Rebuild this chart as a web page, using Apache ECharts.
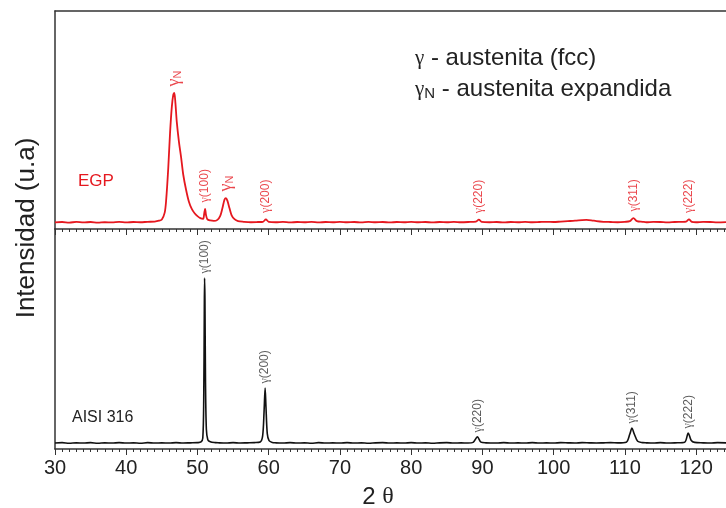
<!DOCTYPE html>
<html>
<head>
<meta charset="utf-8">
<script src="https://cdn.jsdelivr.net/npm/echarts@6/dist/echarts.min.js"></script>
<style>
  html, body { margin: 0; padding: 0; background: #fff; }
  #chart { width: 726px; height: 508px; }
</style>
</head>
<body>
<div id="chart"></div>
<script>
// EGP (nitrided) pattern, 2θ and intensity
const egpTheta = [30, 31, 32, 33, 34, 35, 36, 37, 38, 39, 40, 41, 42, 43, 44, 44.6, 45.0, 45.4, 45.6, 45.9,
  46.15, 46.4, 46.6, 46.75, 46.9, 47.1, 47.4, 47.7, 48.0, 48.4, 48.8, 49.2, 49.6, 50.0, 50.4, 50.8, 50.95, 51.07,
  51.2, 51.4, 51.8, 52.3, 52.8, 53.2, 53.5, 53.8, 54.0, 54.2, 54.5, 54.8, 55.2, 55.7, 56.5, 57.5, 58.5, 59.2,
  59.6, 60.0, 61, 62, 63, 64, 65, 66, 67, 68, 69, 70, 71, 72, 73, 74, 75, 76, 77, 78, 79, 80, 81, 82, 83, 84,
  85, 86, 87, 88, 89.1, 89.5, 89.9, 91, 92, 93, 94, 95, 96, 97, 98, 99, 100, 101, 102, 103, 104, 104.6, 105.3,
  106, 107, 108, 109, 110, 110.7, 111.2, 111.7, 112.5, 113, 114, 115, 116, 117, 118, 118.6, 119.0, 119.4, 120,
  121, 122, 123, 124.2];
const egpIntensity = [3.0, 3.2, 2.9, 3.3, 3.0, 3.2, 2.9, 3.1, 3.0, 3.3, 3.0, 3.2, 3.1, 3.3, 3.4, 3.8, 4.4, 7.5, 13, 28,
  44, 56, 61.5, 62.4, 58, 49, 40, 33, 25, 18, 12.5, 9.2, 7.2, 5.9, 5.0, 4.7, 7.2, 9.2,
  6.4, 4.4, 3.9, 3.7, 4.2, 6.0, 9.5, 13.5, 14.2, 13.0, 9.5, 6.3, 4.5, 3.6, 3.3, 3.1, 3.2, 3.3,
  4.4, 3.3, 3.1, 3.3, 3.0, 3.2, 3.1, 3.3, 3.0, 3.2, 3.1, 3.3, 3.1, 3.2, 3.0, 3.3, 3.1, 3.2, 3.0, 3.2, 3.1, 3.3, 3.1, 3.2, 3.0, 3.2,
  3.1, 3.3, 3.1, 3.2, 3.4, 4.3, 3.3, 3.1, 3.2, 3.0, 3.2, 3.1, 3.3, 3.1, 3.2, 3.3, 3.2, 3.4, 3.6, 3.8, 4.1, 4.2, 4.0,
  3.6, 3.3, 3.2, 3.1, 3.3, 3.6, 5.0, 3.6, 3.3, 3.1, 3.3, 3.2, 3.0, 3.2, 3.3, 3.4, 4.4, 3.3, 3.1,
  3.3, 3.2, 3.0, 3.2];

// AISI 316 pattern, bottom panel
const aisiTheta = [30, 31, 32, 33, 34, 35, 36, 37, 38, 39, 40, 41, 42, 43, 44, 45, 46, 47, 48, 49, 50, 50.5,
  50.75, 50.88, 50.96, 51.0, 51.05, 51.13, 51.25, 51.45, 51.8, 52.5, 53, 54, 55, 56, 57, 58, 58.8, 59.15,
  59.35, 59.5, 59.62, 59.8, 60.05, 60.5, 61, 62, 63, 64, 65, 66, 67, 68, 69, 70, 71, 72, 73, 74, 75, 76, 77,
  78, 79, 80, 81, 82, 83, 84, 85, 86, 87, 88, 88.7, 89.3, 89.8, 90.5, 92, 93, 94, 95, 96, 97, 98, 99, 100,
  101, 102, 103, 104, 105, 106, 107, 108, 109, 110.2, 110.7, 111.0, 111.3, 111.8, 112.5, 113, 114, 115, 116,
  117, 118.4, 118.9, 119.3, 119.8, 121, 122, 123, 124.2];
const aisiIntensity = [2.7, 2.9, 2.6, 2.8, 2.7, 2.9, 2.6, 2.8, 2.7, 2.9, 2.7, 2.8, 2.6, 2.9, 2.7, 2.8, 2.7, 2.9, 2.7, 2.8, 2.9, 3.2,
  5.0, 22, 62, 77.7, 68, 30, 9, 4.2, 3.3, 2.9, 2.8, 2.7, 2.9, 2.7, 2.8, 2.9, 3.2, 6,
  17, 27.7, 19, 7, 3.8, 3.0, 2.8, 2.7, 2.9, 2.7, 2.8, 2.6, 2.9, 2.7, 2.8, 2.7, 2.9, 2.7, 2.8, 2.6, 2.8, 2.9, 2.7,
  2.8, 2.7, 2.9, 2.7, 2.8, 2.6, 2.8, 2.9, 2.7, 2.8, 2.7, 3.0, 5.5, 3.1, 2.8, 2.7, 2.9, 2.7, 2.8, 2.7, 2.9, 2.7, 2.8, 2.7,
  2.9, 2.8, 2.7, 2.9, 2.8, 2.7, 2.8, 2.9, 2.8, 3.1, 6.8, 9.5, 7.0, 3.5, 2.9, 2.8, 2.7, 2.9, 2.7,
  2.8, 3.1, 7.3, 4.0, 3.0, 2.8, 2.7, 2.9, 2.8];

// peak labels
const egpPeakTheta = [46.75, 51.07, 54.0, 59.6, 89.5, 111.2, 119.0];
const egpPeakHeight = [62.4, 9.2, 14.2, 4.4, 4.3, 5.0, 4.4];
const egpPeakLabel = ['γN', 'γ(100)', 'γN', 'γ(200)', 'γ(220)', 'γ(311)', 'γ(222)'];

const aisiPeakTheta = [51.0, 59.5, 89.3, 111.0, 118.9];
const aisiPeakHeight = [77.7, 27.7, 5.5, 9.5, 7.3];
const aisiPeakLabel = ['γ(100)', 'γ(200)', 'γ(220)', 'γ(311)', 'γ(222)'];

const xTicks = [30, 40, 50, 60, 70, 80, 90, 100, 110, 120];

const RED = '#e5181f';
const BLACK = '#111111';
const FRAME = '#333333';
const SANS = '"Liberation Sans", Arial, sans-serif';
const SERIF = '"Liberation Serif", "DejaVu Serif", serif';

const chart = echarts.init(document.getElementById('chart'));

const zip = (xs, ys) => xs.map((x, i) => [x, ys[i]]);

function peakLabels(thetas, heights, labels) {
  return thetas.map((t, i) => ({
    value: [t, heights[i]],
    name: labels[i].startsWith('γN') ? '{gb|γ}{s|N}' : '{g|γ}{t|' + labels[i].slice(1) + '}'
  }));
}

function labelSeries(idx, data, color, gap) {
  return {
    type: 'scatter',
    xAxisIndex: idx,
    yAxisIndex: idx,
    symbolSize: 1,
    silent: true,
    itemStyle: { color: 'rgba(0,0,0,0)' },
    data: data,
    label: {
      show: true,
      position: 'top',
      distance: gap,
      rotate: 90,
      align: 'left',
      verticalAlign: 'middle',
      formatter: p => p.name,
      color: color,
      rich: {
        g: { fontFamily: SERIF, fontSize: 12, color: color },
        t: { fontFamily: SANS, fontSize: 12, color: color },
        gb: { fontFamily: SERIF, fontSize: 18, color: color, lineHeight: 19 },
        s: { fontFamily: SANS, fontSize: 11, color: color, verticalAlign: 'bottom', lineHeight: 11 }
      }
    }
  };
}

const minorTick = { show: true, splitNumber: 10, length: 3, lineStyle: { color: FRAME, width: 1 } };

const option = {
  animation: false,
  backgroundColor: '#ffffff',
  grid: [
    { left: 55, right: 0, top: 11, height: 218 },
    { left: 55, right: 0, top: 229, height: 220 }
  ],
  xAxis: [
    {
      gridIndex: 0, type: 'value', min: 30, max: 124.2, interval: 10, position: 'bottom',
      axisLine: { lineStyle: { color: FRAME, width: 1.5 } },
      axisTick: { show: true, length: 6, lineStyle: { color: FRAME, width: 1 } },
      minorTick: minorTick,
      axisLabel: { show: false },
      splitLine: { show: false }
    },
    {
      gridIndex: 1, type: 'value', min: 30, max: 124.2, interval: 10, position: 'bottom',
      axisLine: { lineStyle: { color: FRAME, width: 1.5 } },
      axisTick: { show: true, length: 6, lineStyle: { color: FRAME, width: 1 } },
      minorTick: minorTick,
      axisLabel: {
        color: '#222', fontSize: 20, fontFamily: SANS, margin: 9,
        showMaxLabel: false,
        formatter: v => (xTicks.includes(v) ? String(v) : '')
      },
      splitLine: { show: false }
    },
    {
      gridIndex: 0, type: 'value', min: 30, max: 124.2, position: 'top',
      axisLine: { lineStyle: { color: FRAME, width: 1.5 } },
      axisTick: { show: false }, axisLabel: { show: false }, splitLine: { show: false }
    }
  ],
  yAxis: [
    {
      gridIndex: 0, type: 'value', min: 0, max: 100,
      axisLine: { show: true, lineStyle: { color: FRAME, width: 1.5 } },
      axisTick: { show: false }, axisLabel: { show: false }, splitLine: { show: false }
    },
    {
      gridIndex: 1, type: 'value', min: 0, max: 100,
      axisLine: { show: true, lineStyle: { color: FRAME, width: 1.5 } },
      axisTick: { show: false }, axisLabel: { show: false }, splitLine: { show: false }
    }
  ],
  series: [
    {
      name: 'EGP', type: 'line', xAxisIndex: 0, yAxisIndex: 0,
      data: zip(egpTheta, egpIntensity), symbol: 'none', smooth: 0.3,
      lineStyle: { color: RED, width: 1.8 }
    },
    {
      name: 'AISI 316', type: 'line', xAxisIndex: 1, yAxisIndex: 1,
      data: zip(aisiTheta, aisiIntensity), symbol: 'none', smooth: 0.3,
      lineStyle: { color: BLACK, width: 1.6 }
    },
    labelSeries(0, peakLabels(egpPeakTheta, egpPeakHeight, egpPeakLabel), RED, 6),
    labelSeries(1, peakLabels(aisiPeakTheta, aisiPeakHeight, aisiPeakLabel), '#333', 4)
  ],
  graphic: [
    {
      type: 'text', x: 27, y: 228, rotation: Math.PI / 2,
      style: { text: 'Intensidad (u.a)', fontSize: 26, fontFamily: SANS, fill: '#222', align: 'center', verticalAlign: 'middle' }
    },
    {
      type: 'text', x: 378, y: 497,
      style: {
        text: '2 {t|θ}', fontSize: 24, fontFamily: SANS, fill: '#222', align: 'center', verticalAlign: 'middle',
        rich: { t: { fontFamily: SERIF, fontSize: 24, fill: '#222' } }
      }
    },
    {
      type: 'text', x: 78, y: 181,
      style: { text: 'EGP', fontSize: 17, fontFamily: SANS, fill: RED, verticalAlign: 'middle' }
    },
    {
      type: 'text', x: 72, y: 418,
      style: { text: 'AISI 316', fontSize: 16, fontFamily: SANS, fill: '#222', verticalAlign: 'middle' }
    },
    {
      type: 'text', x: 415, y: 58,
      style: {
        text: '{g|γ} - austenita (fcc)', fontSize: 24, fontFamily: SANS, fill: '#222', verticalAlign: 'middle',
        rich: { g: { fontFamily: SERIF, fontSize: 21, fill: '#222' } }
      }
    },
    {
      type: 'text', x: 415, y: 89,
      style: {
        text: '{g|γ}{s|N} - austenita expandida', fontSize: 24, fontFamily: SANS, fill: '#222', verticalAlign: 'middle',
        rich: {
          g: { fontFamily: SERIF, fontSize: 21, fill: '#222' },
          s: { fontFamily: SANS, fontSize: 15, fill: '#222', verticalAlign: 'bottom', padding: [10, 0, 0, 0] }
        }
      }
    }
  ]
};

chart.setOption(option);
</script>
</body>
</html>
